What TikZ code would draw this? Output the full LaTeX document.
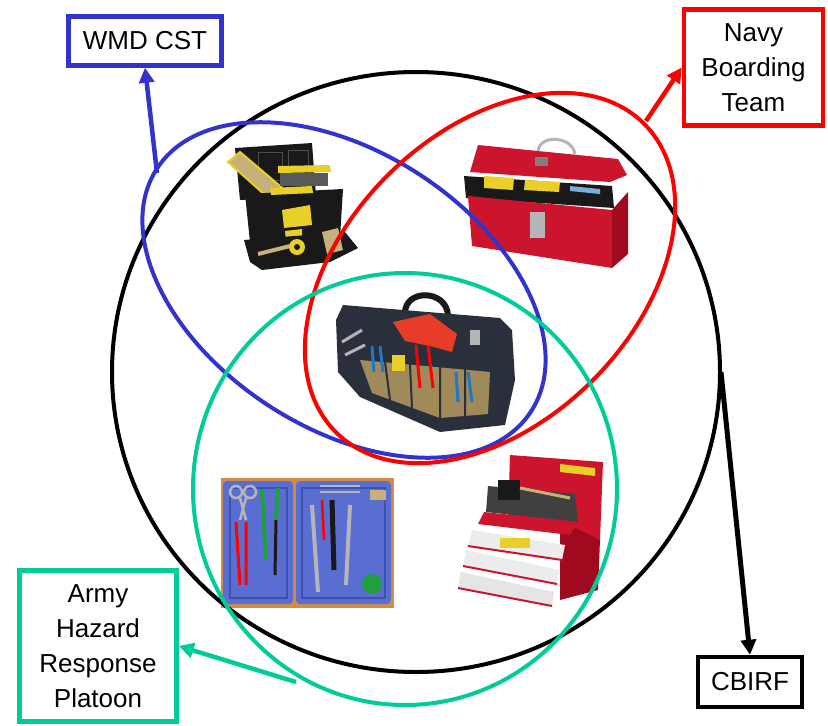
\documentclass[tikz,border=0pt]{standalone}
\usepackage{fontspec}
\setmainfont{Liberation Sans}
\usetikzlibrary{arrows.meta,shapes.geometric}
\definecolor{cblue}{RGB}{51,51,204}
\definecolor{cred}{RGB}{255,0,0}
\definecolor{cgreen}{RGB}{0,204,153}
\definecolor{tbk}{RGB}{25,25,25}
\definecolor{tbyel}{RGB}{232,208,40}
\definecolor{tbtan}{RGB}{200,176,122}
\definecolor{rbx}{RGB}{205,20,45}
\definecolor{rbxd}{RGB}{160,10,30}
\definecolor{silv}{RGB}{180,180,185}
\definecolor{bagnavy}{RGB}{42,47,60}
\definecolor{bagtan}{RGB}{160,138,90}
\definecolor{caseblue}{RGB}{90,110,210}
\definecolor{caseblued}{RGB}{60,80,180}
\definecolor{caseor}{RGB}{210,140,70}
\definecolor{drill}{RGB}{230,60,40}
\definecolor{plblue}{RGB}{30,120,200}
\definecolor{tgreen}{RGB}{30,160,60}
\tikzset{
  labelbox/.style={draw=#1, line width=4.5pt, fill=white, text=black, align=center, inner sep=0pt,
    font=\fontsize{26}{35}\selectfont},
  venn/.style={line width=4pt},
  link/.style={line width=4.5pt, -{Triangle[length=15pt,width=15pt]}},
}
\begin{document}
\begin{tikzpicture}[x=1pt,y=-1pt]
\useasboundingbox (0,0) rectangle (828,726);

% ---- image 1: black toolbox ----
\fill[tbk] (235,148) -- (312,143) -- (316,196) -- (240,200) -- cycle;
\draw[gray!60!black, line width=1pt] (258,152) rectangle (282,180) (288,150) rectangle (308,178);
\fill[tbtan] (228,162) -- (240,152) -- (287,192) -- (274,203) -- cycle;
\draw[tbyel, line width=2pt] (228,162) -- (240,152) -- (287,192) -- (274,203) -- cycle;
\fill[tbyel] (278,166) -- (330,165) -- (331,172) -- (278,173) -- cycle;
\fill[gray!70!black] (280,173) rectangle (328,186);
\fill[tbk] (245,194) -- (343,189) -- (340,238) -- (250,242) -- cycle;
\fill[tbyel] (270,188) -- (312,186) -- (313,193) -- (271,195) -- cycle;
\fill[tbyel] (282,210) -- (310,205) -- (312,225) -- (284,228) -- cycle;
\fill[tbyel] (285,231) -- (302,229) -- (302,239) -- (286,241) -- cycle;
\fill[tbk] (244,240) -- (345,232) -- (358,248) -- (330,262) -- (262,270) -- (250,262) -- cycle;
\fill[tbtan] (322,232) -- (338,228) -- (343,250) -- (327,254) -- cycle;
\draw[tbtan, line width=4pt] (258,254) -- (290,246);
\fill[tbyel] (297,247) circle (8);
\fill[tbk] (297,247) circle (3);

% ---- image 2: red toolbox ----
\fill[rbx] (478,145) -- (618,159) -- (627,175) -- (610,182) -- (470,172) -- cycle;
\draw[silv, line width=3pt] (538,151) .. controls (540,134) and (572,136) .. (575,154);
\fill[gray] (535,157) rectangle (548,166);
\fill[tbk] (464,176) -- (612,186) -- (614,208) -- (466,198) -- cycle;
\fill[tbyel] (484,176) -- (514,178) -- (513,190) -- (484,188) -- cycle;
\fill[tbyel] (525,180) -- (560,182) -- (559,192) -- (524,190) -- cycle;
\fill[plblue!60!white] (570,186) -- (600,189) -- (600,194) -- (570,191) -- cycle;
\fill[rbx] (468,196) -- (612,210) -- (612,268) -- (472,246) -- cycle;
\fill[rbxd] (612,210) -- (628,192) -- (628,254) -- (612,268) -- cycle;
\fill[silv] (530,212) rectangle (545,238);

% ---- image 3: tool bag ----
\draw[tbk, line width=6pt] (405,313) .. controls (405,289) and (446,289) .. (448,315);
\fill[bagnavy] (343,305) -- (500,318) -- (512,330) -- (515,380) -- (505,425) -- (440,432) -- (360,397) -- (338,372) -- (336,320) -- cycle;
\fill[bagtan] (360,360) -- (490,372) -- (488,414) -- (440,418) -- (372,393) -- cycle;
\draw[bagnavy, line width=2pt] (385,362) -- (390,400) (410,364) -- (412,408) (440,367) -- (440,418) (465,369) -- (465,416);
\fill[drill] (393,322) -- (430,314) -- (457,334) -- (452,352) -- (430,346) -- (405,341) -- cycle;
\draw[cred, line width=3pt] (416,345) -- (420,388) (428,345) -- (433,388);
\draw[plblue, line width=3pt] (456,372) -- (458,402) (468,372) -- (472,402);
\draw[plblue, line width=3pt] (372,346) -- (374,372) (380,346) -- (383,372);
\fill[tbyel] (392,355) rectangle (405,371);
\draw[silv, line width=3pt] (342,342) -- (362,330) (345,355) -- (365,345);
\fill[silv] (470,330) rectangle (480,345);

% ---- image 4: blue case ----
\fill[caseor] (221,478) rectangle (394,608);
\fill[caseblue, rounded corners=4pt] (223,481) rectangle (293,604);
\fill[caseblue, rounded corners=4pt] (296,481) rectangle (391,604);
\draw[caseblued, line width=1.5pt] (230,488) rectangle (287,598) (302,488) rectangle (385,598);
\draw[silv, line width=2.5pt] (236,492) circle (6) (250,492) circle (6);
\draw[silv, line width=2.5pt] (240,498) -- (246,520) (246,498) -- (240,520);
\draw[cred, line width=3pt] (236,522) -- (240,585) (246,522) -- (246,585);
\draw[tgreen, line width=4pt] (262,490) -- (266,560);
\draw[tgreen, line width=4pt] (278,488) -- (276,520);
\draw[tbk, line width=3pt] (276,520) -- (275,575);
\draw[silv, line width=4pt] (312,505) -- (318,592);
\draw[cred, line width=2.5pt] (322,500) -- (324,540);
\draw[tbk, line width=5pt] (332,500) -- (334,570);
\draw[silv, line width=4pt] (350,505) -- (346,585);
\draw[silv, line width=1.5pt] (320,486) -- (360,486) (320,492) -- (360,492);
\fill[tbtan] (370,490) rectangle (386,500);
\fill[tgreen] (372,584) circle (10);

% ---- image 5: red tool chest ----
\fill[rbx] (510,455) -- (603,462) -- (600,540) -- (508,520) -- cycle;
\fill[tbyel] (560,464) -- (595,468) -- (595,476) -- (560,472) -- cycle;
\fill[rbxd] (560,520) -- (600,540) -- (598,590) -- (560,600) -- cycle;
\fill[gray!50!black] (488,486) -- (575,494) -- (578,522) -- (486,512) -- cycle;
\fill[tbk] (498,480) rectangle (520,500);
\draw[tbtan, line width=3pt] (520,488) -- (570,498);
\fill[rbx] (484,512) -- (578,522) -- (570,535) -- (478,524) -- cycle;
\fill[white!85!gray] (472,530) -- (565,545) -- (562,560) -- (468,546) -- cycle;
\fill[tbyel] (500,538) rectangle (530,548);
\fill[white!85!gray] (466,550) -- (560,570) -- (557,584) -- (463,566) -- cycle;
\fill[white!80!gray] (461,572) -- (554,592) -- (552,606) -- (458,588) -- cycle;
\draw[rbx, line width=2pt] (468,546) -- (562,560) (463,566) -- (557,584) (458,588) -- (552,606);

% ---- Venn outlines ----
\draw[venn, black] (416,372) ellipse [x radius=304, y radius=300];
\draw[venn, cblue, rotate around={-33:(344,290)}] (344,290) ellipse [x radius=223, y radius=138];
\draw[venn, cred, rotate around={45:(490,278)}] (490,278) ellipse [x radius=218, y radius=145];
\draw[venn, cgreen] (405,489) ellipse [x radius=212, y radius=216];

% ---- label boxes ----
\node[labelbox=cblue, minimum width=153pt, minimum height=49pt] (wmd) at (145,41) {WMD CST};
\node[labelbox=cred, minimum width=139pt, minimum height=116pt] (navy) at (753.5,67.5) {\raisebox{-2pt}{Navy}\\\raisebox{-2pt}{Boarding}\\\raisebox{-2pt}{Team}};
\node[labelbox=cgreen, minimum width=157pt, minimum height=151pt] (army) at (98,646) {\raisebox{-4pt}{Army}\\\raisebox{-4pt}{Hazard}\\\raisebox{-4pt}{Response}\\\raisebox{-4pt}{Platoon}};
\node[labelbox=black, minimum width=104pt, minimum height=50pt] (cbirf) at (750,682) {CBIRF};

% ---- connectors ----
\coordinate (bt) at (157,173);
\coordinate (rt) at (646,121);
\coordinate (gt) at (296,682);
\coordinate (kt) at (721,372);
\draw[link, cblue] (bt) -- (wmd.south);
\draw[link, cred] (rt) -- (navy.west);
\draw[link, cgreen] (gt) -- (army.east);
\draw[link, black, line width=5pt] (kt) -- (cbirf.north);
\end{tikzpicture}
\end{document}
